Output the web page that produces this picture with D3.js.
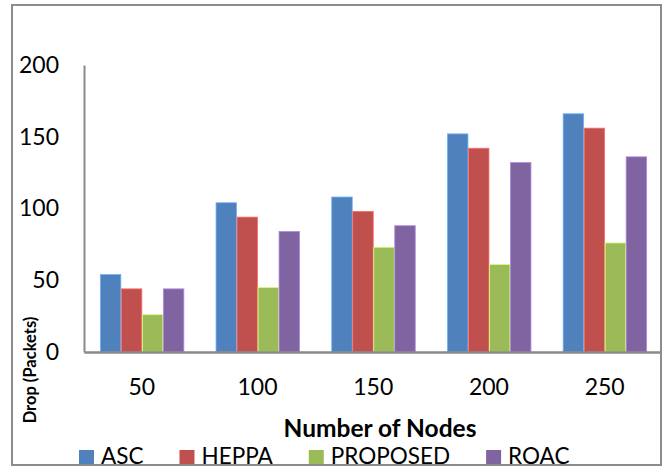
<!DOCTYPE html>
<html>
<head>
<meta charset="utf-8">
<script src="https://cdn.jsdelivr.net/npm/d3@7/dist/d3.min.js"></script>
<style>
  html, body { margin: 0; padding: 0; background: #fff; }
  svg { display: block; font-family: Lato, "Open Sans", sans-serif; }
</style>
</head>
<body>
<svg id="chart" width="665" height="468"></svg>
<script>
// Packet drop per network size for each routing scheme
const nodeCounts = ["50", "100", "150", "200", "250"];
const seriesNames = ["ASC", "HEPPA", "PROPOSED", "ROAC"];
const ascDrop      = [54, 104, 108, 152, 166];
const heppaDrop    = [44, 94, 98, 142, 156];
const proposedDrop = [26, 45, 73, 61, 76];
const roacDrop     = [44, 84, 88, 132, 136];
const yTicks = [0, 50, 100, 150, 200];
const seriesColors = ["#4F81BD", "#C0504D", "#9BBB59", "#8064A2"];

const seriesValues = [ascDrop, heppaDrop, proposedDrop, roacDrop];
const rows = nodeCounts.map((n, i) => ({
  n,
  values: seriesNames.map((s, k) => ({ s, k, v: seriesValues[k][i] }))
}));

const svg = d3.select("#chart");

svg.append("defs").append("clipPath").attr("id", "frame")
  .append("rect").attr("x", 12).attr("y", 5).attr("width", 649).attr("height", 460);

const g = svg.append("g").attr("clip-path", "url(#frame)");

const x0 = d3.scaleBand().domain(nodeCounts)
  .range([84, 662.5]).paddingInner(0.274).paddingOuter(0.137);
const x1 = d3.scaleBand().domain(seriesNames).range([0, x0.bandwidth()]).padding(0);
const y = d3.scaleLinear().domain([0, 200]).range([352, 65]);
const color = d3.scaleOrdinal().domain(seriesNames).range(seriesColors);

// bars
const groups = g.append("g").selectAll("g").data(rows).join("g")
  .attr("transform", d => `translate(${x0(d.n)},0)`);
groups.selectAll("rect").data(d => d.values).join("rect")
  .attr("x", d => x1(d.s) + 0.5)
  .attr("y", d => y(d.v))
  .attr("width", x1.bandwidth() - 0.5)
  .attr("height", d => y(0) - y(d.v))
  .attr("fill", d => color(d.s))
  .attr("stroke", d => d3.color(color(d.s)).brighter(0.9))
  .attr("stroke-width", 0.8);

// y axis
const yAxis = d3.axisLeft(y).tickValues(yTicks).tickSize(0).tickPadding(25);
const ya = g.append("g").attr("transform", "translate(84,0)").call(yAxis);
ya.select(".domain").attr("stroke", "#8a8a8a").attr("stroke-width", 2);
ya.selectAll("text").attr("font-size", 23).attr("fill", "#000")
  .attr("font-family", "Lato, sans-serif");

// x axis
const xAxis = d3.axisBottom(x0).tickSize(0).tickPadding(27);
const xa = g.append("g").attr("transform", "translate(0,352)").call(xAxis);
xa.select(".domain").attr("stroke", "#8a8a8a").attr("stroke-width", 2.5);
xa.selectAll("text").attr("font-size", 23).attr("fill", "#000")
  .attr("font-family", "Lato, sans-serif");

// axis titles
g.append("text")
  .attr("x", 380).attr("y", 437)
  .attr("text-anchor", "middle")
  .attr("font-size", 24.5).attr("font-weight", "bold").attr("fill", "#000")
  .text("Number of Nodes");

g.append("text")
  .attr("transform", "translate(36,370) rotate(-90)")
  .attr("text-anchor", "middle")
  .attr("font-size", 16.5).attr("font-weight", "bold").attr("fill", "#000")
  .text("Drop (Packets)");

// legend
const legend = svg.append("g");
let lx = 79;
seriesNames.forEach((s, k) => {
  legend.append("rect").attr("x", lx).attr("y", 450).attr("width", 15).attr("height", 14)
    .attr("fill", color(s));
  const t = legend.append("text").attr("x", lx + 22).attr("y", 464)
    .attr("font-size", 22.5).attr("fill", "#000").text(s);
  lx += 22 + t.node().getComputedTextLength() + 36;
});

// outer frame
svg.append("rect").attr("x", 12).attr("y", 5).attr("width", 649).attr("height", 460)
  .attr("fill", "none").attr("stroke", "#8c8c8c").attr("stroke-width", 2);
</script>
</body>
</html>
